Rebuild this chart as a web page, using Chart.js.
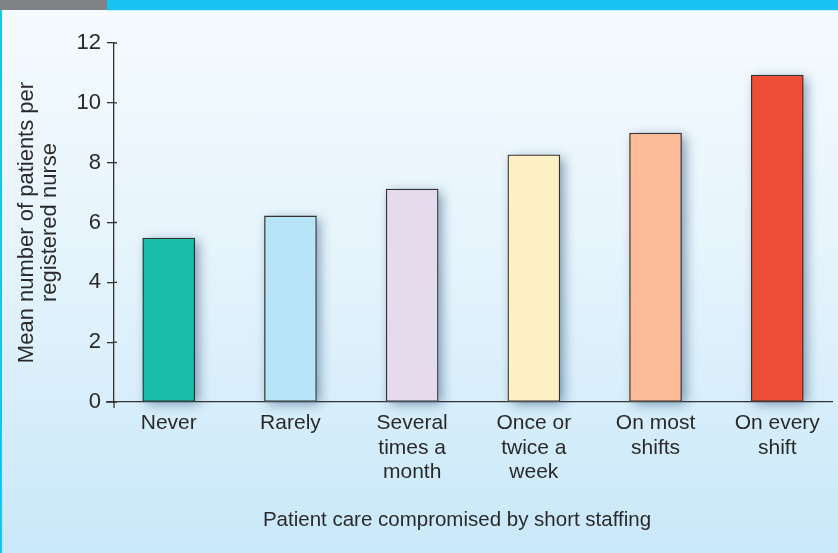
<!DOCTYPE html>
<html>
<head>
<meta charset="utf-8">
<script src="https://cdn.jsdelivr.net/npm/chart.js@4"></script>
<style>
  html, body { margin: 0; padding: 0; }
  #frame {
    position: relative; width: 838px; height: 553px; overflow: hidden;
    background: linear-gradient(#f5fbfe 0%, #e6f4fc 45%, #c9e8f9 100%);
  }
  #tab { position: absolute; left: 0; top: 0; width: 107px; height: 10px; background: #808285; }
  #bar { position: absolute; left: 107px; top: 0; right: 0; height: 10px; background: #19c3f1; border-bottom: 1px solid #c8eefb; }
  #edge { position: absolute; left: 0; top: 10px; bottom: 0; width: 2px; background: #19c3f1; }
  #chart { position: absolute; left: 0; top: 0; }
</style>
</head>
<body>
<div id="frame">
  <canvas id="chart" width="838" height="553"></canvas>
  <div id="tab"></div><div id="bar"></div><div id="edge"></div>
</div>
<script>
const categories = [
  ['Never'],
  ['Rarely'],
  ['Several', 'times a', 'month'],
  ['Once or', 'twice a', 'week'],
  ['On most', 'shifts'],
  ['On every', 'shift']
];
const meanPatients = [5.48, 6.22, 7.12, 8.26, 8.99, 10.93];
const barColors = ['#1abcaa', '#b8e4f8', '#e4dbed', '#fef0c5', '#fbbb98', '#ef4e36'];
const yTitle = ['Mean number of patients per', 'registered nurse'];
const xTitle = 'Patient care compromised by short staffing';

const FONT = 'Liberation Sans, Arial, sans-serif';
const TEXT = '#2a2a2a';
const AXIS = '#333333';

// soft shadow behind each bar
const barShadow = {
  id: 'barShadow',
  beforeDatasetsDraw(chart) {
    const ctx = chart.ctx;
    const meta = chart.getDatasetMeta(0);
    ctx.save();
    ctx.shadowColor = 'rgba(20,60,100,0.5)';
    ctx.shadowBlur = 11;
    ctx.shadowOffsetX = 4;
    ctx.shadowOffsetY = 3;
    meta.data.forEach((el, i) => {
      const p = el.getProps(['x', 'y', 'base', 'width'], true);
      ctx.fillStyle = barColors[i];
      ctx.fillRect(p.x - p.width / 2, p.y, p.width, p.base - p.y);
    });
    ctx.restore();
  }
};

// ticks crossing the y axis, and the axes running a little past the origin
const axisCross = {
  id: 'axisCross',
  afterDraw(chart) {
    const ctx = chart.ctx;
    const y = chart.scales.y;
    const area = chart.chartArea;
    ctx.save();
    ctx.strokeStyle = AXIS;
    ctx.lineWidth = 1.3;
    ctx.beginPath();
    y.ticks.forEach(t => {
      const py = y.getPixelForValue(t.value);
      ctx.moveTo(area.left, py);
      ctx.lineTo(area.left + 3, py);
    });
    ctx.moveTo(area.left, area.bottom);
    ctx.lineTo(area.left, area.bottom + 6);
    ctx.moveTo(area.left - 8, area.bottom);
    ctx.lineTo(area.left, area.bottom);
    ctx.stroke();
    ctx.restore();
  }
};

const xTitlePlugin = {
  id: 'xTitle',
  afterDraw(chart) {
    const ctx = chart.ctx;
    ctx.save();
    ctx.font = '20.5px ' + FONT;
    ctx.fillStyle = TEXT;
    ctx.textAlign = 'center';
    ctx.textBaseline = 'middle';
    ctx.fillText(xTitle, 457, 520);
    ctx.restore();
  }
};

new Chart(document.getElementById('chart'), {
  type: 'bar',
  data: {
    datasets: [{
      data: meanPatients.map((v, i) => ({ x: i, y: v })),
      backgroundColor: barColors,
      borderColor: AXIS,
      borderWidth: 1.3,
      borderSkipped: false,
      barThickness: 52
    }]
  },
  plugins: [barShadow, axisCross, xTitlePlugin],
  options: {
    responsive: false,
    animation: false,
    layout: { padding: { top: 43, right: 6, left: 0, bottom: 0 } },
    plugins: { legend: { display: false }, tooltip: { enabled: false } },
    scales: {
      x: {
        type: 'linear',
        offset: false,
        min: -0.45,
        max: 5.45,
        afterBuildTicks(scale) {
          scale.ticks = categories.map((c, i) => ({ value: i }));
        },
        afterFit(scale) { scale.height = 151; },
        grid: { display: true, drawOnChartArea: false, drawTicks: false },
        border: { display: true, color: AXIS, width: 1.3 },
        ticks: {
          padding: 9,
          maxRotation: 0,
          autoSkip: false,
          color: TEXT,
          font: { family: FONT, size: 21, lineHeight: 1.17 },
          callback: (v) => categories[v]
        }
      },
      y: {
        min: 0,
        max: 12,
        afterFit(scale) { scale.width = 114; },
        ticks: {
          stepSize: 2,
          padding: 6,
          color: TEXT,
          font: { family: FONT, size: 22 }
        },
        grid: { drawOnChartArea: false, tickLength: 7, color: AXIS, lineWidth: 1.3 },
        border: { display: true, color: AXIS, width: 1.3 },
        title: {
          display: true,
          text: yTitle,
          color: TEXT,
          font: { family: FONT, size: 22, lineHeight: 1.05 },
          padding: { top: 15, bottom: 0 }
        }
      }
    }
  }
});
</script>
</body>
</html>
